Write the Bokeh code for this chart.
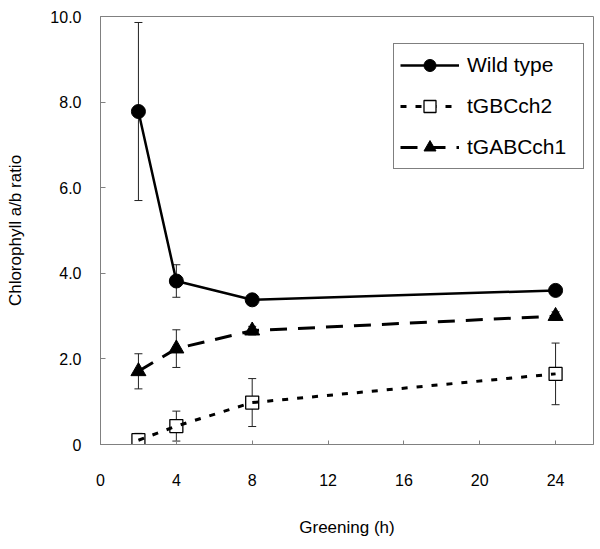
from bokeh.plotting import figure
from bokeh.models import (ColumnDataSource, Whisker, TeeHead, Legend, LegendItem,
                          FixedTicker, Range1d)
from bokeh.embed import file_html
from bokeh.resources import INLINE

# ---- data ----
hours = [2, 4, 8, 24]
wild_type = [7.78, 3.82, 3.38, 3.60]
wild_type_err = [2.08, 0.38, 0.10, 0.10]
tgbcch2 = [0.10, 0.43, 0.98, 1.65]
tgbcch2_err = [0.16, 0.35, 0.56, 0.72]
tgabcch1 = [1.71, 2.24, 2.66, 3.00]
tgabcch1_err = [0.41, 0.44, 0.10, 0.10]

x_ticks = [0, 4, 8, 12, 16, 20, 24]
y_ticks = [0, 2, 4, 6, 8, 10]
y_tick_labels = ["0", "2.0", "4.0", "6.0", "8.0", "10.0"]

FONT = "Liberation Sans"
GRAY = "#808080"

p = figure(width=594, height=545, x_range=Range1d(0, 26), y_range=Range1d(0, 10),
           output_backend="svg", toolbar_location=None,
           min_border_left=100, min_border_right=1, min_border_top=16, min_border_bottom=101)
p.xgrid.visible = False
p.ygrid.visible = False
p.outline_line_color = GRAY
p.outline_line_width = 1
p.background_fill_color = "white"
p.border_fill_color = "white"

for ax in (p.xaxis[0], p.yaxis[0]):
    ax.axis_line_color = GRAY
    ax.axis_line_width = 1
    ax.major_tick_line_color = GRAY
    ax.major_tick_out = 0
    ax.minor_tick_line_color = None
    ax.major_label_text_font = FONT
    ax.major_label_text_font_size = "16px"
    ax.major_label_text_color = "black"
    ax.axis_label_text_font = FONT
    ax.axis_label_text_font_size = "17px"
    ax.axis_label_text_font_style = "normal"
    ax.axis_label_text_color = "black"

p.xaxis.ticker = FixedTicker(ticks=x_ticks)
p.xaxis.major_tick_in = 4
p.xaxis.major_label_standoff = 29
p.xaxis.axis_label = "Greening (h)"
p.xaxis.axis_label_standoff = 29

p.yaxis.ticker = FixedTicker(ticks=y_ticks)
p.yaxis.major_tick_in = 5
p.yaxis.major_label_standoff = 19
p.yaxis.major_label_overrides = {t: s for t, s in zip(y_ticks, y_tick_labels)}
p.yaxis.axis_label = "Chlorophyll a/b ratio"
p.yaxis.axis_label_standoff = 22

# ---- error bars ----
for vals, errs in ((wild_type, wild_type_err), (tgbcch2, tgbcch2_err), (tgabcch1, tgabcch1_err)):
    src = ColumnDataSource(dict(x=hours,
                                upper=[v + e for v, e in zip(vals, errs)],
                                lower=[v - e for v, e in zip(vals, errs)]))
    w = Whisker(base="x", upper="upper", lower="lower", source=src,
                line_color="#222222", line_width=1,
                upper_head=TeeHead(size=8, line_color="#222222", line_width=1),
                lower_head=TeeHead(size=8, line_color="#222222", line_width=1))
    p.add_layout(w)

# ---- series ----
r1l = p.line(hours, wild_type, line_color="black", line_width=2.5)
r1m = p.scatter(hours, wild_type, marker="circle", size=14, fill_color="black", line_color="black")

r2m = p.scatter(hours, tgbcch2, marker="square", size=13, fill_color="white",
                line_color="black", line_width=1.3)
r2l = p.line(hours, tgbcch2, line_color="black", line_width=3, line_dash="6 9")

r3l = p.line(hours, tgabcch1, line_color="black", line_width=3, line_dash="17 11")
r3m = p.scatter(hours, tgabcch1, marker="triangle", size=15, fill_color="black", line_color="black")

legend = Legend(items=[LegendItem(label="Wild type", renderers=[r1l, r1m]),
                       LegendItem(label="tGBCch2", renderers=[r2l, r2m]),
                       LegendItem(label="tGABCch1", renderers=[r3l, r3m])],
                location=(293, 275), margin=0, padding=6, spacing=11,
                glyph_width=59, glyph_height=30, label_standoff=8,
                label_width=110, label_height=20,
                border_line_color="black", border_line_width=1.5,
                background_fill_color="white", background_fill_alpha=1,
                label_text_font=FONT, label_text_font_size="21px",
                label_text_color="black")
p.add_layout(legend)

open("out.html", "w").write(file_html(p, INLINE))
